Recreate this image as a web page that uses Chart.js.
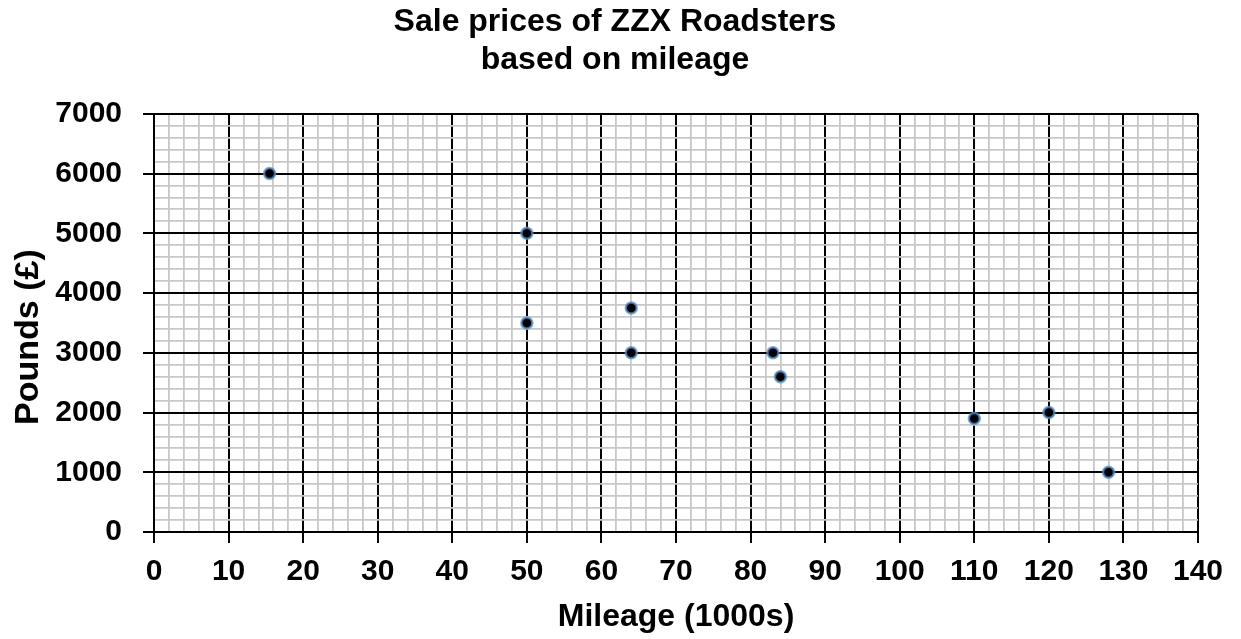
<!DOCTYPE html>
<html>
<head>
<meta charset="utf-8">
<script src="https://cdn.jsdelivr.net/npm/chart.js@4"></script>
<style>
  html, body { margin: 0; padding: 0; background: #ffffff; }
  #wrap { width: 1241px; height: 639px; }
</style>
</head>
<body>
<div id="wrap"><canvas id="c" width="1241" height="639"></canvas></div>
<script>
// ---- data ----
const titleLines = ['Sale prices of ZZX Roadsters', 'based on mileage'];
const xAxisTitle = 'Mileage (1000s)';
const yAxisTitle = 'Pounds (£)';
const mileage = [15.5, 50, 50, 64, 64, 83, 84, 110, 120, 128];
const prices = [6000, 5000, 3500, 3750, 3000, 3000, 2600, 1900, 2000, 1000];
const xTickLabels = [0, 10, 20, 30, 40, 50, 60, 70, 80, 90, 100, 110, 120, 130, 140];
const yTickLabels = [0, 1000, 2000, 3000, 4000, 5000, 6000, 7000];

const points = mileage.map((m, i) => ({ x: m, y: prices[i] }));
const FONT = "'Liberation Sans', Arial, sans-serif";
const MAJOR = '#000000';
const MINOR = '#c8c8c8';

function gridColor(list) {
  return ctx => (ctx.tick && list.includes(ctx.tick.value)) ? MAJOR : MINOR;
}
function gridWidth(list) {
  return ctx => (ctx.tick && list.includes(ctx.tick.value)) ? 2 : 1.8;
}
function tickColor(list) {
  return ctx => (ctx.tick && list.includes(ctx.tick.value)) ? MAJOR : 'rgba(0,0,0,0)';
}

new Chart(document.getElementById('c'), {
  type: 'scatter',
  data: {
    datasets: [{
      data: points,
      backgroundColor: '#000000',
      borderColor: 'rgba(80,145,210,0.75)',
      borderWidth: 2.5,
      pointRadius: 5.5,
      pointHoverRadius: 5.5
    }]
  },
  options: {
    responsive: false,
    animation: false,
    events: [],
    layout: { padding: { left: 0, right: 11, top: 0, bottom: 0 } },
    plugins: {
      legend: { display: false },
      tooltip: { enabled: false },
      title: {
        display: true,
        text: titleLines,
        color: '#000',
        font: { family: FONT, size: 32, weight: 'bold', lineHeight: 1.2 },
        padding: { top: 3, bottom: 34 }
      }
    },
    scales: {
      x: {
        type: 'linear',
        min: 0, max: 140,
        afterFit: s => { s.height = 107; },
        ticks: {
          stepSize: 2,
          autoSkip: false,
          maxRotation: 0,
          padding: 11,
          color: '#000',
          font: { family: FONT, size: 30, weight: 'bold' },
          callback: v => xTickLabels.includes(v) ? String(v) : ''
        },
        grid: {
          color: gridColor(xTickLabels),
          lineWidth: gridWidth(xTickLabels),
          tickColor: tickColor(xTickLabels),
          tickWidth: 2,
          tickLength: 11,
          drawTicks: true
        },
        border: { color: '#000', width: 2 },
        title: {
          display: true,
          text: xAxisTitle,
          color: '#000',
          font: { family: FONT, size: 32, weight: 'bold', lineHeight: 1.2 },
          padding: { top: 0, bottom: 3 }
        }
      },
      y: {
        type: 'linear',
        min: 0, max: 7000,
        afterFit: s => { s.width = 154; },
        ticks: {
          stepSize: 200,
          autoSkip: false,
          padding: 21,
          color: '#000',
          font: { family: FONT, size: 30, weight: 'bold' },
          callback: v => yTickLabels.includes(v) ? String(v) : ''
        },
        grid: {
          color: gridColor(yTickLabels),
          lineWidth: gridWidth(yTickLabels),
          tickColor: tickColor(yTickLabels),
          tickWidth: 2,
          tickLength: 11,
          drawTicks: true
        },
        border: { color: '#000', width: 2 },
        title: {
          display: true,
          text: yAxisTitle + '   ',
          color: '#000',
          font: { family: FONT, size: 34, weight: 'bold', lineHeight: 1.2 },
          padding: { top: 8, bottom: 0 }
        }
      },
      yRight: {
        type: 'linear',
        position: 'right',
        display: true,
        afterFit: s => { s.width = 32; },
        grid: { display: false, drawTicks: false },
        ticks: { display: false },
        border: { display: false }
      }
    }
  }
});
</script>
</body>
</html>
